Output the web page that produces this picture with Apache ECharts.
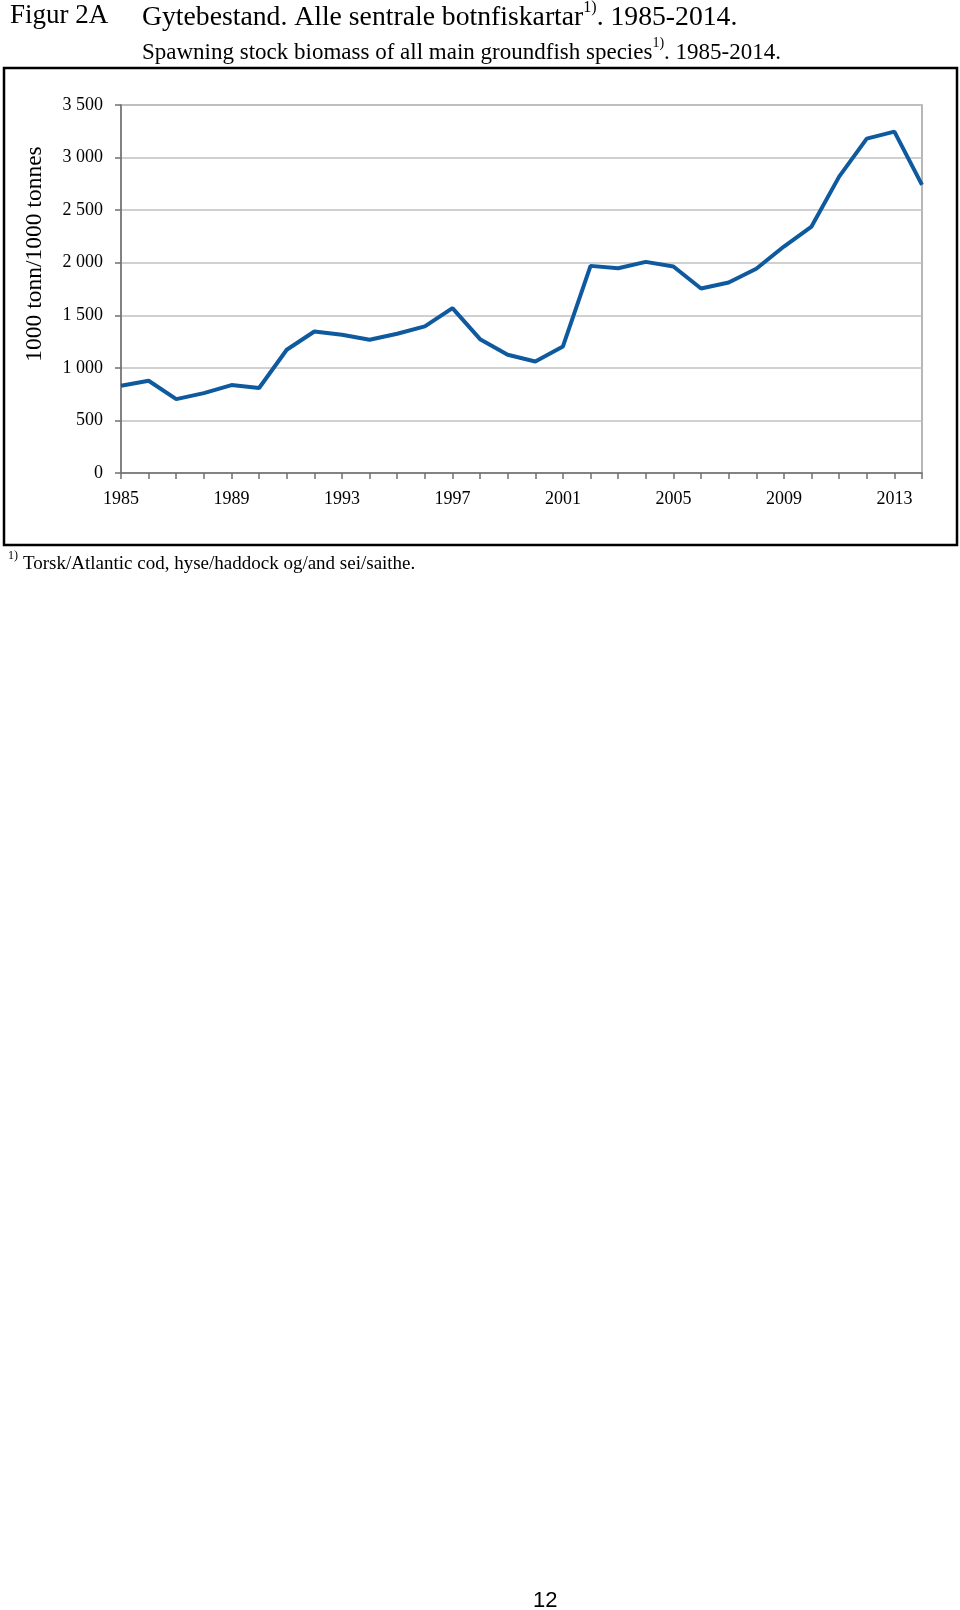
<!DOCTYPE html>
<html>
<head>
<meta charset="utf-8">
<script src="https://cdn.jsdelivr.net/npm/echarts@6/dist/echarts.min.js"></script>
<style>
html,body{margin:0;padding:0;background:#fff;}
#chart{width:960px;height:1610px;}
</style>
</head>
<body>
<div id="chart"></div>
<script>
const years = ['1985','1986','1987','1988','1989','1990','1991','1992','1993','1994','1995','1996','1997','1998','1999','2000','2001','2002','2003','2004','2005','2006','2007','2008','2009','2010','2011','2012','2013','2014'];
const ssb = [830, 877, 703, 760, 836, 808, 1172, 1346, 1315, 1267, 1324, 1394, 1568, 1273, 1124, 1061, 1204, 1970, 1948, 2008, 1964, 1755, 1812, 1942, 2154, 2344, 2819, 3180, 3247, 2740];
const yTicks = {min: 0, max: 3500, interval: 500};
const yName = '1000 tonn/1000 tonnes';

const serif = '"Liberation Serif", "DejaVu Serif", serif';
const T = (size, lh, va) => ({fontFamily: serif, fontSize: size, fontWeight: 'normal', color: '#000', lineHeight: lh, verticalAlign: va});
const chart = echarts.init(document.getElementById('chart'));
chart.setOption({
  animation: false,
  backgroundColor: '#fff',
  title: [
    {left: 10, top: 0, padding: 0, text: 'Figur 2A',
     textStyle: {fontFamily: serif, fontSize: 27, fontWeight: 'normal', color: '#000', lineHeight: 32}},
    {left: 142, top: 0, padding: 0,
     text: '{a|Gytebestand. Alle sentrale botnfiskartar}{s|1)}{a|. 1985-2014.}',
     textStyle: {fontWeight: 'normal', rich: {a: T(27.7, 32, 'bottom'), s: T(16, 18, 'top')}}},
    {left: 142, top: 36, padding: 0,
     text: '{a|Spawning stock biomass of all main groundfish species}{s|1)}{a|. 1985-2014.}',
     textStyle: {fontWeight: 'normal', rich: {a: T(23, 28, 'bottom'), s: T(14, 16, 'top')}}},
    {left: 8, top: 550, padding: 0,
     text: '{s|1)} {a|Torsk/Atlantic cod, hyse/haddock og/and sei/saithe.}',
     textStyle: {fontWeight: 'normal', rich: {a: T(19, 24, 'bottom'), s: T(12, 14, 'top')}}},
    {left: 533, top: 1590, padding: 0, text: '12',
     textStyle: {fontFamily: '"Liberation Sans", Arial, sans-serif', fontSize: 22, fontWeight: 'normal', color: '#000'}}
  ],
  graphic: [
    {type: 'rect', shape: {x: 4, y: 68, width: 953, height: 477},
     style: {fill: 'none', stroke: '#000', lineWidth: 2.5}, silent: true},
    {type: 'text', x: 35, y: 254, rotation: Math.PI / 2, silent: true,
     style: {text: yName, fontFamily: serif, fontSize: 23.5, fill: '#000', align: 'center', verticalAlign: 'middle'}}
  ],
  grid: {left: 121, top: 105, width: 801, height: 368, show: true,
         borderColor: '#a0a0a0', borderWidth: 1.5, backgroundColor: 'transparent'},
  xAxis: {
    type: 'category', data: years, boundaryGap: false,
    axisLine: {lineStyle: {color: '#707070', width: 1.5}},
    axisTick: {show: true, interval: 0, length: 6, lineStyle: {color: '#707070', width: 1.5}},
    axisLabel: {interval: 3, margin: 17, fontFamily: serif, fontSize: 18, color: '#000'},
    splitLine: {show: false}
  },
  yAxis: {
    type: 'value', min: yTicks.min, max: yTicks.max, interval: yTicks.interval,
    axisLine: {show: true, lineStyle: {color: '#707070', width: 1.5}},
    axisTick: {show: true, length: 6, lineStyle: {color: '#707070', width: 1.5}},
    axisLabel: {margin: 18, fontFamily: serif, fontSize: 18, color: '#000',
      formatter: v => v >= 1000 ? String(v).replace(/(\d)(\d{3})$/, '$1 $2') : String(v)},
    splitLine: {show: true, lineStyle: {color: '#c0c0c0', width: 1.5}}
  },
  series: [{
    type: 'line', data: ssb, symbol: 'none',
    lineStyle: {color: '#0f5a9e', width: 4}, z: 5
  }]
});
</script>
</body>
</html>
